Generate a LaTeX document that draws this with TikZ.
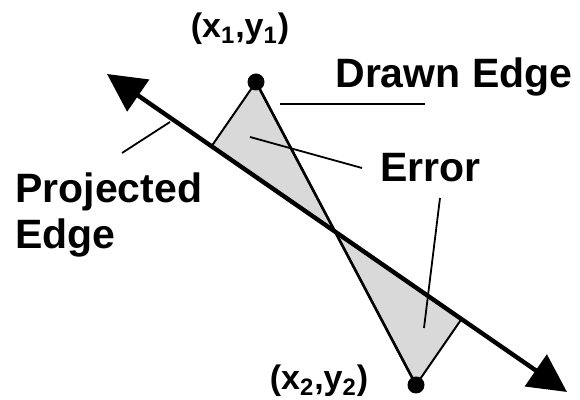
\documentclass[tikz,border=0pt]{standalone}
\usepackage{fontspec}
\setmainfont{Liberation Sans}
\usetikzlibrary{arrows.meta,calc}

\begin{document}
\begin{tikzpicture}[
  x=0.5pt,y=0.5pt,
  >={Triangle[length=19pt,width=19pt]},
  label/.style={font=\fontsize{20.5}{23}\selectfont\bfseries,inner sep=0pt},
  coord/.style={font=\fontsize{17}{19}\selectfont\bfseries,inner sep=0pt},
  dot/.style={circle,fill,inner sep=0pt,minimum size=8.5pt},
  leader/.style={line width=0.9pt},
  error/.style={fill=gray!30,draw,line width=1pt,line join=round}
]
  \useasboundingbox (0,0) rectangle (580,400);
  \coordinate (tail) at (107,326);
  \coordinate (head) at (567,8);
  \coordinate (p1) at (256,318);
  \coordinate (p2) at (416,15);
  \coordinate (cross) at (intersection of tail--head and p1--p2);
  \coordinate (foot1) at ($(tail)!(p1)!(head)$);
  \coordinate (foot2) at ($(tail)!(p2)!(head)$);
  \path[error] (p1) -- (foot1) -- (cross) -- cycle;
  \path[error] (cross) -- (foot2) -- (p2) -- cycle;
  \draw[line width=1.3pt] (p1) -- (p2);
  \draw[<->,line width=2.2pt] (tail) -- (head);

  \node[dot] (dot1) at (p1) {};
  \node[dot] (dot2) at (p2) {};
  \node[coord,anchor=base] (xy1) at (240,362) {(x\textsubscript{1},y\textsubscript{1})};
  \node[coord,anchor=base] (xy2) at (319,10) {(x\textsubscript{2},y\textsubscript{2})};
  \node[label,anchor=base west] (drawn) at (335,312) {Drawn Edge};
  \node[label,anchor=base west] (error) at (380,218) {Error};
  \node[label,anchor=north west,align=left] (projected) at (15,228) {Projected\\Edge};

  \coordinate (drawnA) at (280,296);
  \coordinate (drawnB) at (425,296);
  \coordinate (errA) at (250,263);
  \coordinate (errB) at (362,232);
  \coordinate (errC) at (440,202);
  \coordinate (errD) at (424,72);
  \coordinate (projA) at (122,247);
  \coordinate (projB) at (170,278);
  \draw[leader] (drawnA) -- (drawnB);
  \draw[leader] (errA) -- (errB);
  \draw[leader] (errC) -- (errD);
  \draw[leader] (projA) -- (projB);
\end{tikzpicture}
\end{document}
